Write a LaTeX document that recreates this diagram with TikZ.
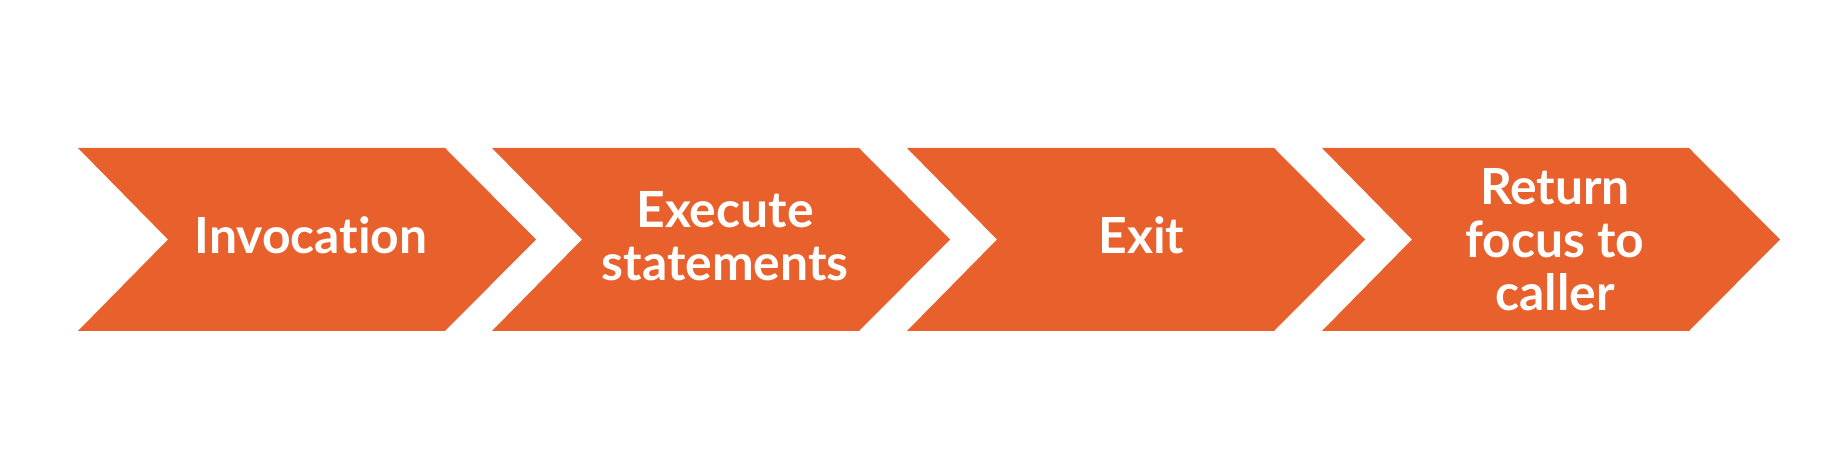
\documentclass[tikz,border=0pt]{standalone}
\usepackage{fontspec}
\setmainfont{Lato}[Ligatures={NoCommon,NoDiscretionary}]
\definecolor{chevorange}{HTML}{E8612C}
\begin{document}
\begin{tikzpicture}[x=0.5pt,y=-0.5pt,
  chevfill/.style={fill=chevorange},
  chevlabel/.style={text=white,align=center,inner sep=0pt,font=\fontsize{24.9}{26.5}\selectfont\bfseries},
  chev/.pic={\fill[chevfill] (0,0) -- (367,0) -- (458,91.5) -- (367,183) -- (0,183) -- (90,91.5) -- cycle;}]
\useasboundingbox (0,0) rectangle (1844,458);
\fill[white] (0,0) rectangle (1844,458);
\pic at (78,148) {chev};
\pic at (492,148) {chev};
\pic at (907,148) {chev};
\pic at (1322,148) {chev};
\node[chevlabel] (t1) at (311,235.5) {Invocation};
\node[chevlabel] (t2) at (725,236.5) {Execute\\statements};
\node[chevlabel] (t3) at (1141.5,235.5) {Exit};
\node[chevlabel] (t4) at (1555,240) {Return\\focus to\\caller};
\end{tikzpicture}
\end{document}
